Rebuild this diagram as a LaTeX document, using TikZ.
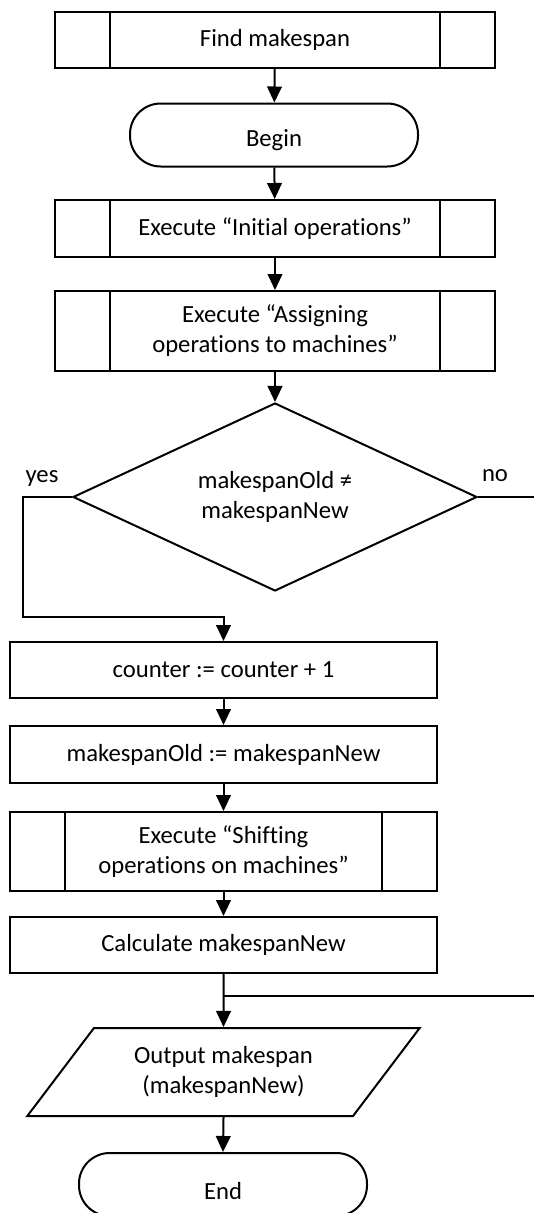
\documentclass[tikz,border=0pt]{standalone}
\usepackage{fontspec}
\setmainfont[RawFeature=-liga]{Carlito}
\usetikzlibrary{arrows.meta,shapes.geometric,calc}

\tikzset{
  txt/.style={font=\fontsize{18.5}{22.5}\selectfont, align=center},
  box/.style={draw, fill=white, line width=1.5pt, inner sep=0pt, txt},
  every label/.style={txt, inner sep=0pt},
  procbox/.style={box, rectangle},
  subproc/.style={box, rectangle,
    path picture={
      \draw[line width=1.5pt]
        ([xshift=41pt]path picture bounding box.north west) --
        ([xshift=41pt]path picture bounding box.south west)
        ([xshift=-41pt]path picture bounding box.north east) --
        ([xshift=-41pt]path picture bounding box.south east);}},
  terminal/.style={box, rectangle, rounded corners=23pt,
    minimum width=216pt, minimum height=47.25pt},
  decision/.style={box, diamond, minimum width=303pt, minimum height=141pt},
  iobox/.style={box, trapezium, trapezium left angle=48, trapezium right angle=132,
    trapezium stretches=true, minimum width=294.75pt, minimum height=66pt},
  arr/.style={line width=1.5pt, -{Triangle[width=11pt,length=12pt]}},
  ln/.style={line width=1.5pt},
  lbl/.style={font=\fontsize{18.5}{22}\selectfont, inner sep=0pt},
}

\begin{document}
\begin{tikzpicture}[x=0.75pt, y=-0.75pt]
  \useasboundingbox (0,0) rectangle (534,1213);
  \clip (0,0) rectangle (534,1213);

  % main column
  \node[subproc, minimum width=330pt, minimum height=42pt] (find) at (275,40) {Find makespan};
  \node[terminal, label={[yshift=-4pt]center:Begin}] (begin) at (274,135) {};
  \node[subproc, minimum width=330pt, minimum height=42.75pt] (init) at (275,228.5) {Execute “Initial operations”};
  \node[subproc, minimum width=330pt, minimum height=60pt] (assign) at (275,331) {Execute “Assigning\\operations to machines”};
  \node[decision, label={center:makespanOld ≠\\makespanNew}] (dec) at (275,497) {};

  % loop body
  \node[procbox, minimum width=320.25pt, minimum height=42pt] (counter) at (223.5,670) {counter := counter + 1};
  \node[procbox, minimum width=320.25pt, minimum height=42.75pt] (old) at (223.5,754.5) {makespanOld := makespanNew};
  \node[subproc, minimum width=320.25pt, minimum height=59.25pt] (shift) at (223.5,851.5) {Execute “Shifting\\operations on machines”};
  \node[procbox, minimum width=320.25pt, minimum height=42pt] (calc) at (223.5,945) {Calculate makespanNew};

  % output and end
  \node[iobox] (out) at (223.5,1072) {Output makespan\\(makespanNew)};
  \node[terminal, label={[yshift=-5pt]center:End}] (end) at (223,1184.5) {};

  % branch labels
  \node[lbl] (yes) at (42,479) {yes};
  \node[lbl] (no) at (495,476) {no};

  % helper points for the branches
  \coordinate (ycorner) at (23,617);
  \coordinate (noexit) at (534,497);
  \coordinate (join) at (223.5,996);
  \coordinate (noret) at (534,996);

  % connectors
  \draw[arr] (find) -- (begin);
  \draw[arr] (begin) -- (init);
  \draw[arr] (init) -- (assign);
  \draw[arr] (assign) -- (dec);
  \draw[arr] (dec.west) -| (ycorner) -| (counter.north);
  \draw[ln] (dec.east) -- (noexit);
  \draw[arr] (counter) -- (old);
  \draw[arr] (old) -- (shift);
  \draw[arr] (shift) -- (calc);
  \draw[ln] (noret) -- (join);
  \draw[arr] (calc.south) -- (out.north);
  \draw[arr] (out.south) -- (end.north);
\end{tikzpicture}
\end{document}
